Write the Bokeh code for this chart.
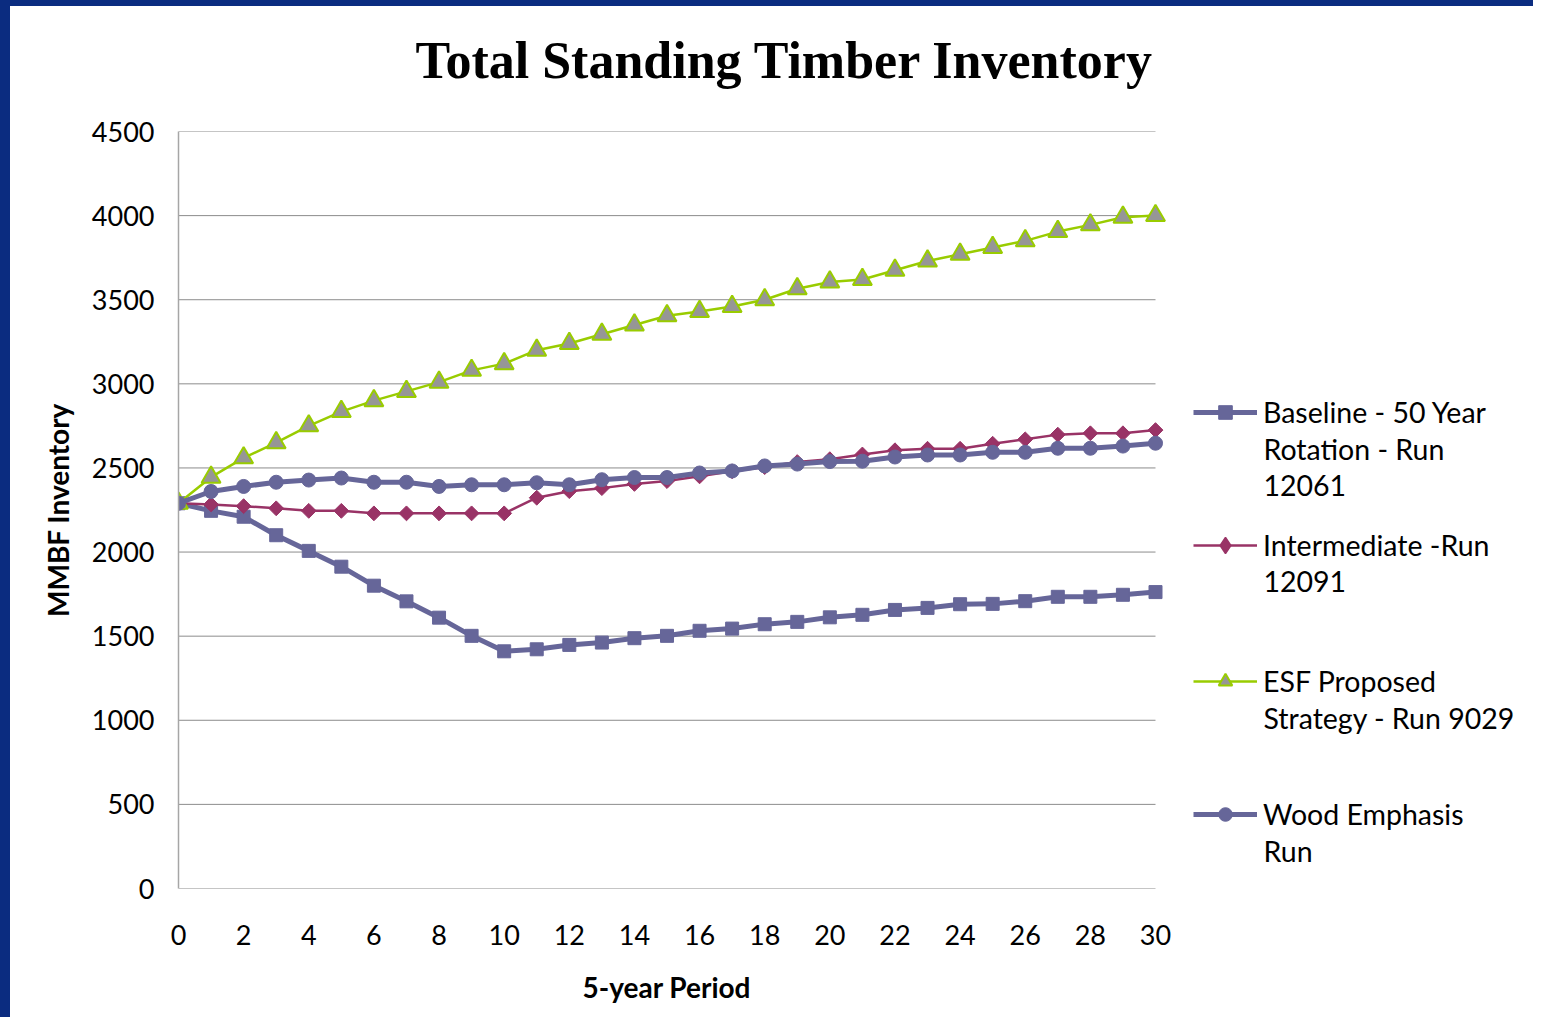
from bokeh.plotting import figure
from bokeh.models import (Range1d, FixedTicker, Legend, LegendItem, Label, Title)
from bokeh.embed import file_html
from bokeh.resources import INLINE
import numpy as np

# ---- data ----
periods = list(range(0, 31))
x_ticks = list(range(0, 31, 2))
y_ticks = list(range(0, 4501, 500))

baseline = [2290, 2245, 2210, 2100, 2007, 1913, 1800, 1707, 1610, 1502, 1410,
            1422, 1448, 1462, 1488, 1502, 1532, 1545, 1571, 1585, 1612,
            1627, 1656, 1668, 1690, 1692, 1708, 1734, 1734, 1746, 1762]
intermediate = [2290, 2283, 2273, 2260, 2245, 2245, 2230, 2230, 2230, 2230, 2230,
                2323, 2362, 2380, 2405, 2422, 2450, 2480, 2505, 2535, 2552,
                2580, 2605, 2614, 2614, 2644, 2670, 2698, 2706, 2706, 2725]
esf = [2290, 2445, 2560, 2650, 2750, 2835, 2900, 2955, 3010, 3080, 3120,
       3200, 3240, 3295, 3350, 3405, 3430, 3460, 3500, 3565, 3605,
       3620, 3675, 3730, 3770, 3810, 3850, 3905, 3945, 3990, 4000]
wood = [2290, 2360, 2390, 2415, 2428, 2440, 2415, 2415, 2390, 2400, 2400,
        2412, 2400, 2430, 2443, 2443, 2470, 2482, 2512, 2523, 2538,
        2540, 2565, 2577, 2577, 2593, 2593, 2617, 2617, 2630, 2647]

labels_first = ["Baseline - 50 Year", "Intermediate -Run", "ESF Proposed", "Wood Emphasis"]
labels_more = [["Rotation - Run", "12061"], ["12091"], ["Strategy - Run 9029"], ["Run"]]

title_text = "Total Standing Timber Inventory"
x_label = "5-year Period"
y_label = "MMBF Inventory"

SANS = "Lato"
BLUE = "#666699"
PLUM = "#993366"
GREEN = "#99cc00"
GRID = "#8c8c8c"
FRAME_BLUE = "#0b2c80"

# plot frame: x = 0..30 spans 977 px; the frame continues to the right to host the legend
BL, BT = 10, 6                      # slide-style blue border (left, top)
W, H = 1533, 1017
LEFT, TOP, BOTTOM = 178 - BL, 131 - BT, 134
px_per_unit = 977 / (x_ticks[-1] - x_ticks[0])
x_end = (W - LEFT) / px_per_unit

p = figure(width=W, height=H, output_backend="svg", toolbar_location=None,
           x_range=Range1d(0, x_end), y_range=Range1d(0, 4500),
           min_border_left=LEFT, min_border_right=0,
           min_border_top=TOP, min_border_bottom=BOTTOM)
p.styles = {"border-left": f"{BL}px solid {FRAME_BLUE}",
            "border-top": f"{BT}px solid {FRAME_BLUE}"}
p.outline_line_color = None
p.background_fill_color = "white"
p.border_fill_color = "white"

# title
p.title.text = title_text
p.title.text_font = "Liberation Serif"
p.title.text_font_style = "bold"
p.title.text_font_size = "52px"
p.title.align = "left"
p.title.offset = 237
p.title.vertical_align = "bottom"
p.title.standoff = 20
p.title.text_color = "black"
# empty spacer between the title and the frame
p.add_layout(Title(text=" ", text_font_size="2px", text_color="white", standoff=29), "above")

# axes
p.xaxis.ticker = FixedTicker(ticks=x_ticks)
p.yaxis.ticker = FixedTicker(ticks=y_ticks)
for ax in (p.xaxis, p.yaxis):
    ax.major_tick_in = 0
    ax.major_tick_out = 0
    ax.minor_tick_line_color = None
    ax.major_label_text_font = SANS
    ax.major_label_text_font_size = "27px"
    ax.major_label_text_color = "black"
    ax.axis_label_text_font = SANS
    ax.axis_label_text_font_style = "bold"
    ax.axis_label_text_font_size = "28px"
    ax.axis_label_text_color = "black"
p.yaxis.axis_line_color = "#a6a6a6"
p.yaxis.axis_line_width = 1.5
p.xaxis.axis_line_color = None
p.yaxis.axis_label = y_label
p.xaxis.major_label_standoff = 36
p.yaxis.major_label_standoff = 24
p.yaxis.axis_label_standoff = 14

# x-axis title (centred under the 0..30 span)
p.add_layout(Title(text=x_label, text_font=SANS, text_font_style="bold",
                   text_font_size="28px", text_color="black", align="left",
                   offset=404, standoff=40), "below")

p.xgrid.grid_line_color = None
p.ygrid.grid_line_color = None
# horizontal grid lines (and x-axis line) limited to the 0..30 span
n = len(y_ticks)
p.segment(x0=[x_ticks[0]] * n, x1=[x_ticks[-1]] * n, y0=y_ticks, y1=y_ticks,
          line_color=GRID, line_width=1)

# series
r_b_line = p.line(periods, baseline, line_color=BLUE, line_width=5)
r_b_mk = p.scatter(periods, baseline, marker="square", size=13, fill_color=BLUE, line_color=BLUE)

r_i_line = p.line(periods, intermediate, line_color=PLUM, line_width=2.5)
r_i_mk = p.scatter(periods, intermediate, marker="square", angle=np.pi / 4, size=10.5,
                   fill_color=PLUM, line_color=PLUM)
# legend-only diamond sample (a single undefined point, never drawn in the plot)
r_i_leg = p.scatter(x=[np.nan], y=[np.nan], marker="diamond", size=10,
                    fill_color=PLUM, line_color=PLUM, line_width=1.5)

r_e_line = p.line(periods, esf, line_color=GREEN, line_width=2.5)
r_e_mk = p.scatter(periods, esf, marker="triangle", size=19, fill_color="#969696",
                   line_color=GREEN, line_width=2)

r_w_line = p.line(periods, wood, line_color=BLUE, line_width=5)
r_w_mk = p.scatter(periods, wood, marker="circle", size=14, fill_color=BLUE, line_color=BLUE)

renderers = [[r_b_line, r_b_mk], [r_i_line, r_i_leg], [r_e_line, r_e_mk], [r_w_line, r_w_mk]]

# legend entries: screen px relative to the frame's bottom-left corner
item_centers = [476, 343, 207, 74]
glyph_heights = [34, 40, 34, 34]
line_gap = 37
leg_x = 1015
for rs, lab, more, yc, gh in zip(renderers, labels_first, labels_more, item_centers, glyph_heights):
    lg = Legend(items=[LegendItem(label=lab, renderers=rs)],
                location=(leg_x, yc - gh // 2), glyph_width=64, glyph_height=gh,
                label_height=gh, label_standoff=6, padding=0, margin=0,
                spacing=0, border_line_color=None, background_fill_alpha=0,
                label_text_font=SANS, label_text_font_size="28.5px",
                label_text_color="black")
    p.add_layout(lg, "center")
    for k, t in enumerate(more):
        p.add_layout(Label(x=leg_x + 70, y=yc - line_gap * (k + 1) + 1, x_units="screen",
                           y_units="screen", text=t, text_font=SANS,
                           text_font_size="28.5px", text_baseline="middle",
                           text_color="black"))

open("out.html", "w").write(file_html(p, INLINE))
